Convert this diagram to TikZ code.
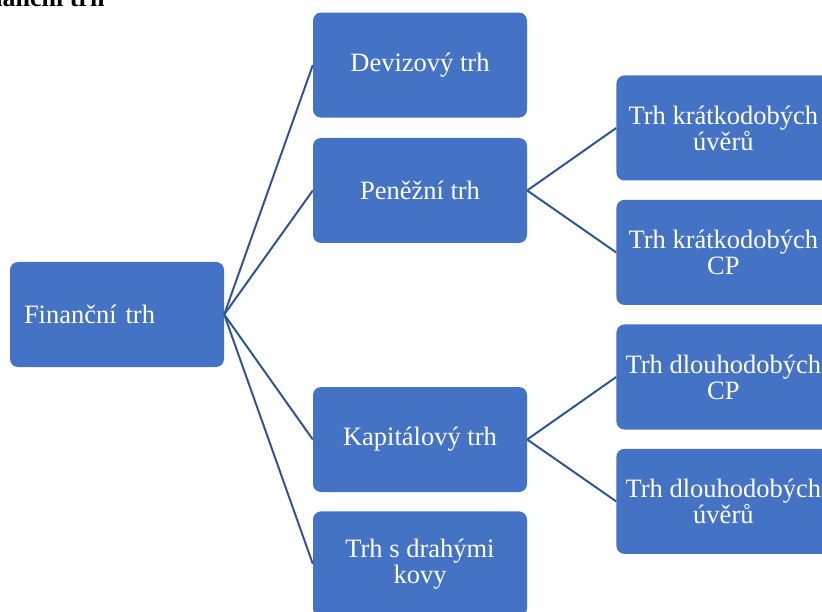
\documentclass[tikz,border=0pt]{standalone}
\usepackage{fontspec}
\setmainfont{Liberation Serif}
\usepackage{tikz}
\usetikzlibrary{positioning}
\usepackage{xcolor}
\definecolor{boxblue}{RGB}{68,114,196}
\definecolor{linkblue}{RGB}{47,85,151}

\begin{document}
\begin{tikzpicture}[
    x=1pt, y=-1pt,
    node distance=20pt and 89pt,
    box/.style={rectangle, rounded corners=8pt, fill=boxblue, text=white,
                minimum width=214pt, minimum height=105pt, align=center,
                inner sep=2pt, font=\fontsize{26.5}{26}\selectfont},
    link/.style={line width=2pt, color=linkblue},
    title/.style={font=\fontsize{26}{26}\selectfont\bfseries}
]
\useasboundingbox (0,0) rectangle (822,612);
\clip (0,0) rectangle (822,612);

% --- Title ---
\node[title, anchor=base east] (heading) at (108,7) {Finanční trh};

% --- Root ---
\node[box, align=left, text width=186pt, inner xsep=14pt] (financni) at (117,314.5) {Finanční trh};

% --- Middle column ---
\node[box] (penezni) at (420,190.5) {Peněžní trh};
\node[box, above=20pt of penezni] (devizovy) {Devizový trh};
\node[box] (kapitalovy) at (420,439.5) {Kapitálový trh};
\node[box, below=19pt of kapitalovy] (kovy) {Trh s drahými\\kovy};

\foreach \m in {devizovy, penezni, kapitalovy, kovy}
    \draw[link] (financni.east) -- (\m.west);

% --- Right column ---
\node[box, right=89pt of penezni, yshift=62.5pt] (kratkouvery) {Trh krátkodobých\\úvěrů};
\node[box, below=19pt of kratkouvery] (kratkocp) {Trh krátkodobých\\CP};
\node[box, right=89pt of kapitalovy, yshift=62.5pt] (dlouhocp) {Trh dlouhodobých\\CP};
\node[box, below=19pt of dlouhocp] (dlouhouvery) {Trh dlouhodobých\\úvěrů};

\draw[link] (penezni.east) -- (kratkouvery.west);
\draw[link] (penezni.east) -- (kratkocp.west);
\draw[link] (kapitalovy.east) -- (dlouhocp.west);
\draw[link] (kapitalovy.east) -- (dlouhouvery.west);

\end{tikzpicture}
\end{document}
